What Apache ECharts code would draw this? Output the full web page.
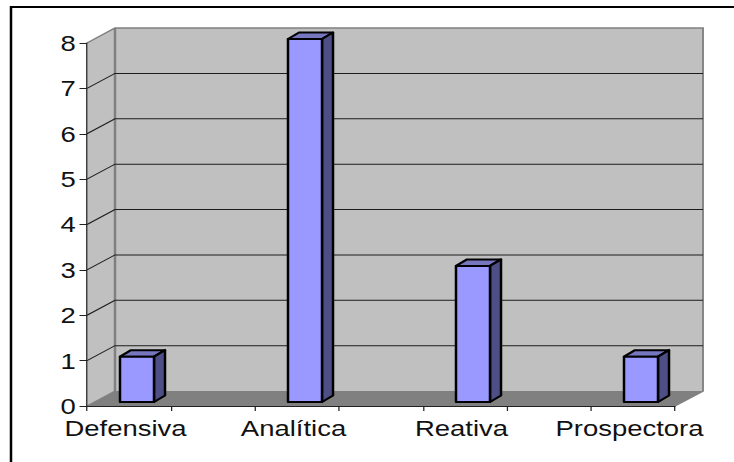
<!DOCTYPE html>
<html>
<head>
<meta charset="utf-8">
<style>
  html, body { margin: 0; padding: 0; background: #fff; overflow: hidden; }
  #chart { width: 588px; height: 462px; transform-origin: 0 0; transform: scaleX(1.2483); }
</style>
<script src="https://cdn.jsdelivr.net/npm/echarts@6/dist/echarts.min.js"></script>
</head>
<body>
<div id="chart"></div>
<script>
// Every other slot on the category axis is empty, which spaces the four strategies out.
const categories = ['Defensiva', '', 'Analítica', '', 'Reativa', '', 'Prospectora'];
const counts = [1, null, 8, null, 3, null, 1];
const yTicks = [0, 1, 2, 3, 4, 5, 6, 7, 8];

// The drawing is laid out 1.2483x narrower and widened by CSS, giving the wide lettering.
const SX = 734 / 588;
const px = v => v / SX;

// Oblique projection of the box: full depth, then the bar's start and length inside it.
const DEPTH_X = px(28), DEPTH_Y = 15;
const BAR_OFF_X = px(8), BAR_OFF_Y = 4;
const BAR_DX = px(11), BAR_DY = 6.5;
const BAR_W = px(34);

const poly = (points, style, z2) => ({
  type: 'polygon', shape: { points }, style, z2: z2 || 0, silent: true
});
const line = (points, stroke, lineWidth, z2) => ({
  type: 'polyline', shape: { points },
  style: { stroke, lineWidth, fill: 'none' }, z2: z2 || 0, silent: true
});

// Side wall, back wall and floor of the box.
function renderRoom(params) {
  const c = params.coordSys;
  const l = c.x, r = c.x + c.width, t = c.y, b = c.y + c.height;
  const dx = DEPTH_X, dy = DEPTH_Y;
  return {
    type: 'group',
    children: [
      poly([[l, t], [l + dx, t - dy], [l + dx, b - dy], [l, b]], { fill: '#c0c0c0' }),
      poly([[l + dx, t - dy], [r + dx, t - dy], [r + dx, b - dy], [l + dx, b - dy]], { fill: '#c0c0c0' }),
      poly([[l, b], [l + dx, b - dy], [r + dx, b - dy], [r, b]], { fill: '#808080' }),
      line([[l, t], [l + dx, t - dy], [r + dx, t - dy], [r + dx, b - dy], [r, b]], '#808080', 1.5, 2),
      line([[l + dx, t - dy], [l + dx, b - dy]], '#808080', 2, 2),
      line([[l, b], [l + dx, b - dy]], '#808080', 1, 2)
    ]
  };
}

// Gridline for one tick, running along the side wall and across the back wall.
function renderGridline(params, api) {
  const c = params.coordSys;
  const y = api.coord([0, api.value(0)])[1];
  const l = c.x, r = c.x + c.width;
  return line([[l, y], [l + DEPTH_X, y - DEPTH_Y], [r + DEPTH_X, y - DEPTH_Y]], '#1c1c1c', 1);
}

// One 3D column: top and side faces behind the front face.
function renderBar(params, api) {
  const top = api.coord([api.value(0), api.value(1)]);
  const base = api.coord([api.value(0), 0]);
  const x0 = top[0] + BAR_OFF_X - BAR_W / 2;
  const x1 = x0 + BAR_W;
  const y0 = top[1] - BAR_OFF_Y;
  const y1 = base[1] - BAR_OFF_Y;
  const edge = { stroke: '#000', lineWidth: 2, lineJoin: 'round' };
  return {
    type: 'group',
    children: [
      poly([[x0, y0], [x0 + BAR_DX, y0 - BAR_DY], [x1 + BAR_DX, y0 - BAR_DY], [x1, y0]],
        Object.assign({ fill: '#7777c0' }, edge)),
      poly([[x1, y0], [x1 + BAR_DX, y0 - BAR_DY], [x1 + BAR_DX, y1 - BAR_DY], [x1, y1]],
        Object.assign({ fill: '#4f4f88' }, edge)),
      poly([[x0, y0], [x1, y0], [x1, y1], [x0, y1]],
        Object.assign({ fill: '#9999ff' }, edge), 1)
    ]
  };
}

const chart = echarts.init(document.getElementById('chart'), null, { renderer: 'svg' });
const labelFont = { fontFamily: '"Liberation Sans", Arial, sans-serif', fontSize: 22, color: '#111' };

chart.setOption({
  animation: false,
  backgroundColor: '#fff',
  grid: { left: px(87), top: 43, width: px(588), height: 363 },
  xAxis: {
    type: 'category',
    data: categories,
    z: 10,
    axisLine: { lineStyle: { color: '#222', width: 1 } },
    axisTick: { show: true, alignWithLabel: false, interval: 0, length: 5, lineStyle: { color: '#222' } },
    axisLabel: Object.assign({ interval: 0, margin: 11, hideOverlap: false, padding: [0, px(7), 0, 0] }, labelFont),
    splitLine: { show: false }
  },
  yAxis: {
    type: 'value',
    min: 0, max: 8, interval: 1,
    z: 10,
    axisLine: { show: true, lineStyle: { color: '#222', width: 1 } },
    axisTick: { show: true, length: 6, lineStyle: { color: '#222' } },
    axisLabel: Object.assign({ margin: 9 }, labelFont),
    splitLine: { show: false }
  },
  graphic: [
    // Frame around the chart area: only its top and left edges fall on the page.
    { type: 'line', shape: { x1: px(11), y1: 7, x2: 600, y2: 7 }, style: { stroke: '#000', lineWidth: 2 }, z: 20 },
    { type: 'line', shape: { x1: px(11), y1: 6, x2: px(11), y2: 470 }, style: { stroke: '#000', lineWidth: 2 }, z: 20 }
  ],
  series: [
    { type: 'custom', z: 1, silent: true, data: [[0]], renderItem: renderRoom },
    { type: 'custom', z: 2, silent: true, data: yTicks.slice(1, -1).map(v => [v]), encode: { y: 0 }, renderItem: renderGridline },
    {
      type: 'custom', z: 3, silent: true,
      data: counts.map((v, i) => [i, v]).filter(d => d[1] !== null),
      encode: { x: 0, y: 1 },
      renderItem: renderBar
    }
  ]
});
</script>
</body>
</html>
